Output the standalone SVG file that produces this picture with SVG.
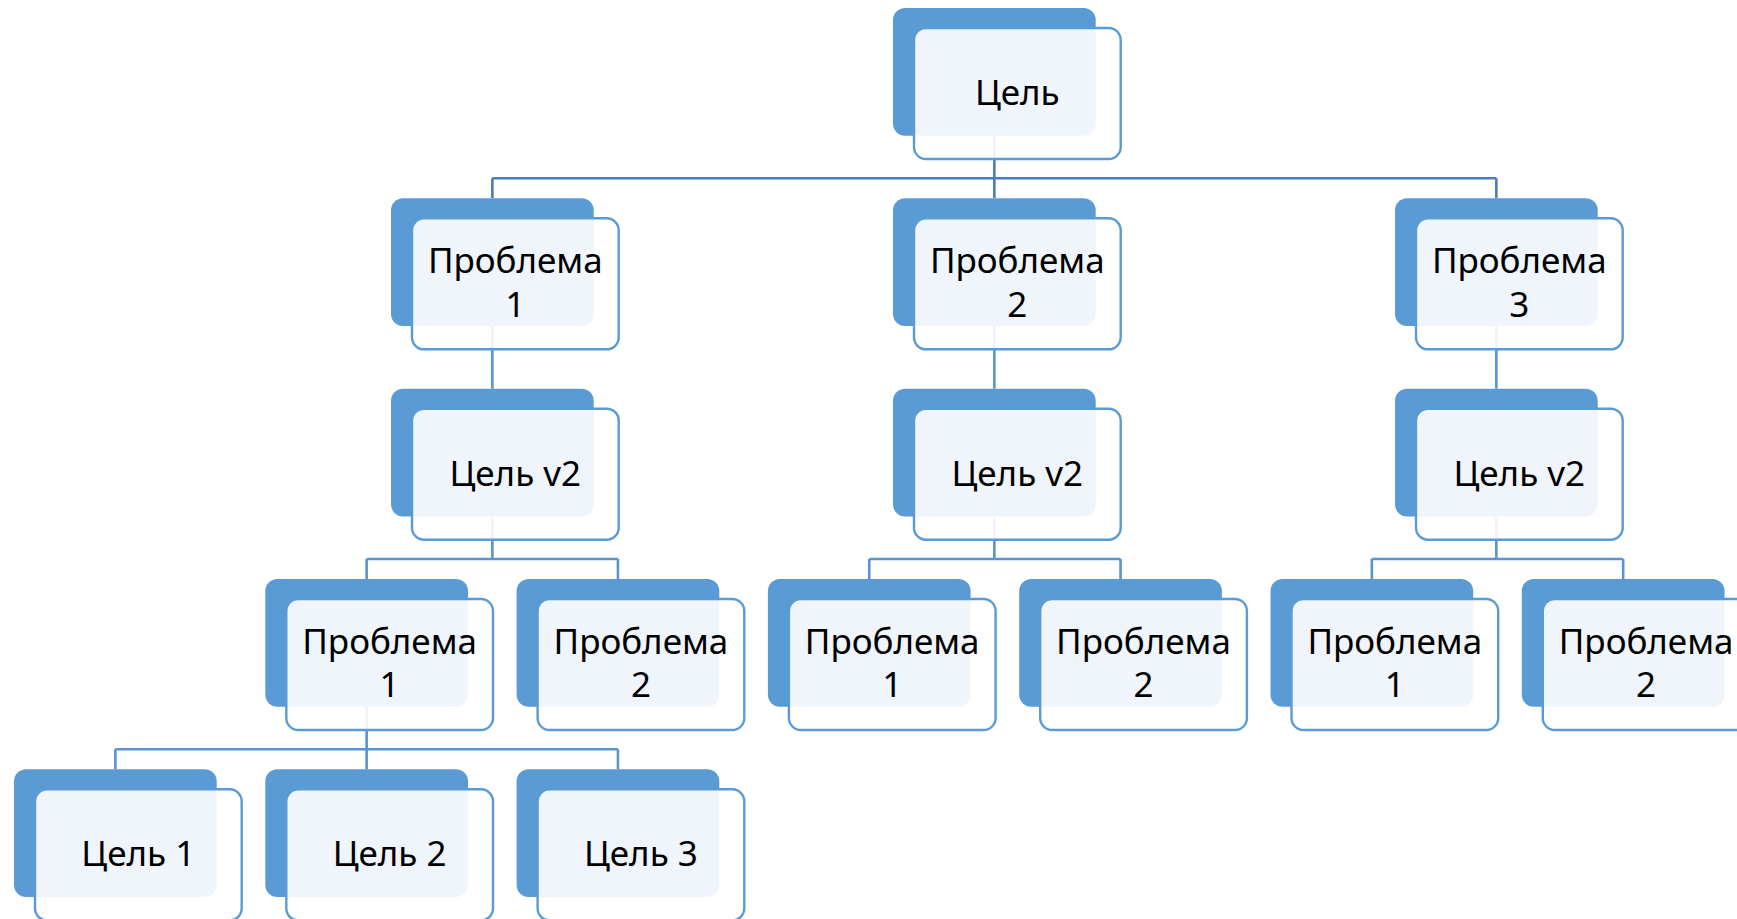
<svg xmlns="http://www.w3.org/2000/svg" width="1737" height="919" viewBox="0 0 1737 919">
  <style>
    .back { fill: #5b9bd5; }
    .front { fill: #ffffff; fill-opacity: 0.9; stroke: #5b9bd5; stroke-width: 2.4; }
    .lbl { font-family: "Noto Sans", "Open Sans", sans-serif; font-size: 35px; fill: #000000; text-anchor: middle; }
    .link { fill: none; stroke: #5a93cf; stroke-width: 2.6; }
    .link-top { fill: none; stroke: #4a7ebb; stroke-width: 2.6; }
  </style>
  <defs>
    <!-- two stacked rounded cards: solid back card, translucent front card -->
    <g id="card">
      <rect class="back" x="0" y="0" width="202.7" height="127.7" rx="12"/>
      <rect class="front" x="21" y="20" width="206.7" height="131" rx="12"/>
    </g>
  </defs>

  <g id="connectors">
    <path class="link-top" d="M994.35 136 V178.3 M492.35 178.3 H1496.35 M492.35 178.3 V198.3 M994.35 178.3 V198.3 M1496.35 178.3 V198.3"/>
    <path class="link" d="M492.35 326 V388.7 M994.35 326 V388.7 M1496.35 326 V388.7"/>
    <path class="link" d="M492.35 516.4 V559 M366.65 559 H617.95 M366.65 559 V579 M617.95 559 V579"/>
    <path class="link" d="M994.35 516.4 V559 M869.25 559 H1120.55 M869.25 559 V579 M1120.55 559 V579"/>
    <path class="link" d="M1496.35 516.4 V559 M1371.85 559 H1623.15 M1371.85 559 V579 M1623.15 559 V579"/>
    <path class="link" d="M366.65 706.7 V749.3 M115.35 749.3 H617.95 M115.35 749.3 V769.3 M366.65 749.3 V769.3 M617.95 749.3 V769.3"/>
  </g>

  <g id="goal" transform="translate(893,8)">
    <use href="#card"/>
    <text class="lbl" x="124.3" y="97">Цель</text>
  </g>

  <g id="problem-1" transform="translate(391,198.3)">
    <use href="#card"/>
    <text class="lbl" x="124.3" y="75">Проблема</text>
    <text class="lbl" x="124.3" y="118.4">1</text>
  </g>
  <g id="problem-2" transform="translate(893,198.3)">
    <use href="#card"/>
    <text class="lbl" x="124.3" y="75">Проблема</text>
    <text class="lbl" x="124.3" y="118.4">2</text>
  </g>
  <g id="problem-3" transform="translate(1395,198.3)">
    <use href="#card"/>
    <text class="lbl" x="124.3" y="75">Проблема</text>
    <text class="lbl" x="124.3" y="118.4">3</text>
  </g>

  <g id="goal-v2-a" transform="translate(391,388.7)">
    <use href="#card"/>
    <text class="lbl" x="124.3" y="97">Цель v2</text>
  </g>
  <g id="goal-v2-b" transform="translate(893,388.7)">
    <use href="#card"/>
    <text class="lbl" x="124.3" y="97">Цель v2</text>
  </g>
  <g id="goal-v2-c" transform="translate(1395,388.7)">
    <use href="#card"/>
    <text class="lbl" x="124.3" y="97">Цель v2</text>
  </g>

  <g id="sub-a1" transform="translate(265.3,579)">
    <use href="#card"/>
    <text class="lbl" x="124.3" y="75">Проблема</text>
    <text class="lbl" x="124.3" y="118.4">1</text>
  </g>
  <g id="sub-a2" transform="translate(516.6,579)">
    <use href="#card"/>
    <text class="lbl" x="124.3" y="75">Проблема</text>
    <text class="lbl" x="124.3" y="118.4">2</text>
  </g>
  <g id="sub-b1" transform="translate(767.9,579)">
    <use href="#card"/>
    <text class="lbl" x="124.3" y="75">Проблема</text>
    <text class="lbl" x="124.3" y="118.4">1</text>
  </g>
  <g id="sub-b2" transform="translate(1019.2,579)">
    <use href="#card"/>
    <text class="lbl" x="124.3" y="75">Проблема</text>
    <text class="lbl" x="124.3" y="118.4">2</text>
  </g>
  <g id="sub-c1" transform="translate(1270.5,579)">
    <use href="#card"/>
    <text class="lbl" x="124.3" y="75">Проблема</text>
    <text class="lbl" x="124.3" y="118.4">1</text>
  </g>
  <g id="sub-c2" transform="translate(1521.8,579)">
    <use href="#card"/>
    <text class="lbl" x="124.3" y="75">Проблема</text>
    <text class="lbl" x="124.3" y="118.4">2</text>
  </g>

  <g id="leaf-1" transform="translate(14,769.3)">
    <use href="#card"/>
    <text class="lbl" x="124.3" y="97">Цель 1</text>
  </g>
  <g id="leaf-2" transform="translate(265.3,769.3)">
    <use href="#card"/>
    <text class="lbl" x="124.3" y="97">Цель 2</text>
  </g>
  <g id="leaf-3" transform="translate(516.6,769.3)">
    <use href="#card"/>
    <text class="lbl" x="124.3" y="97">Цель 3</text>
  </g>
</svg>
